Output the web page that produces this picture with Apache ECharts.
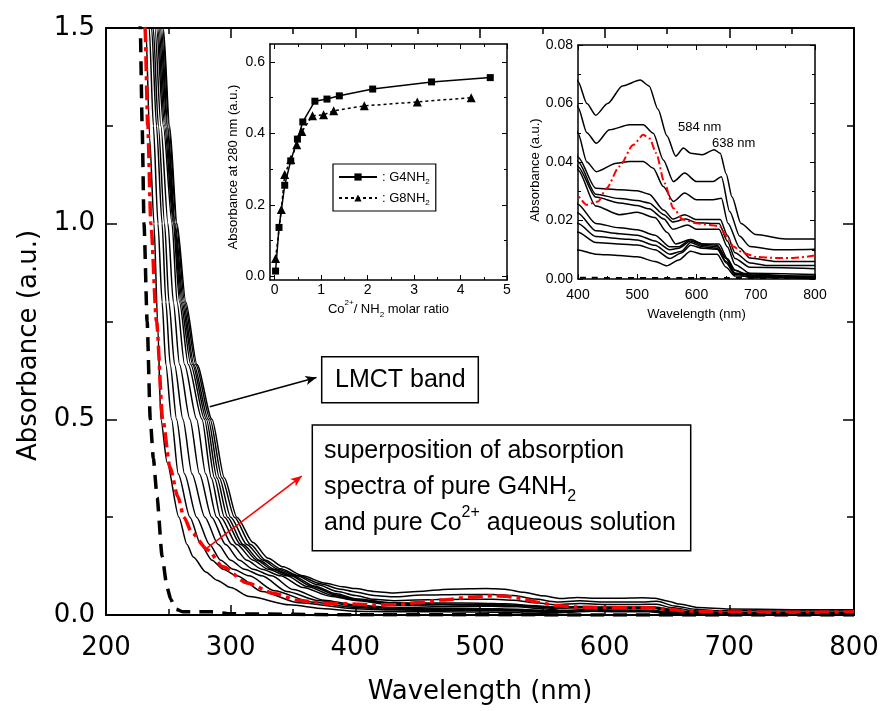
<!DOCTYPE html>
<html>
<head>
<meta charset="utf-8">
<script src="https://cdn.jsdelivr.net/npm/echarts@6.0.0/dist/echarts.min.js"></script>
<style>html,body{margin:0;padding:0;background:#fff;}#c{width:883px;height:711px;}</style>
</head>
<body>
<div id="c"></div>
<script>
// ---------- data: UV-Vis spectra [wavelength (nm), absorbance] ----------
const s1 = [[244,1.65],[246,1.5],[251,1.25],[257,1.0],[264,0.8],[273,0.64],[285,0.5],[295,0.35],[305,0.25],[318,0.185],[330,0.145],[342,0.123],[358,0.1],[375,0.082],[390,0.072],[400,0.0675],[415,0.06],[430,0.056],[450,0.06],[475,0.066],[505,0.068],[520,0.066],[535,0.058],[550,0.049],[565,0.042],[578,0.0448],[590,0.043],[610,0.0425],[630,0.0442],[640,0.043],[650,0.036],[660,0.028],[675,0.019],[700,0.0152],[750,0.0137],[800,0.0137]];
const s2 = [[243.5,1.65],[245.5,1.5],[250.5,1.25],[256.5,1.0],[263,0.8],[272,0.64],[283.5,0.5],[293,0.35],[303,0.25],[316,0.18],[328,0.14],[340,0.118],[355,0.1],[372,0.08],[388,0.066],[400,0.0587],[415,0.05],[431,0.0464],[453,0.051],[487,0.0527],[510,0.0527],[527,0.0498],[544,0.0407],[561,0.0333],[580,0.0362],[600,0.0333],[628,0.0333],[642,0.035],[656,0.0231],[673,0.0146],[690,0.0111],[735,0.01],[800,0.0102]];
const s3 = [[242.5,1.65],[244.5,1.5],[249.5,1.25],[255.5,1.0],[262,0.8],[270.5,0.64],[282,0.5],[291,0.35],[300,0.25],[313,0.18],[326,0.14],[338,0.117],[353,0.1],[370,0.077],[386,0.06],[400,0.0498],[415,0.04],[431,0.0367],[465,0.0396],[487,0.0402],[510,0.0402],[527,0.0379],[544,0.0316],[561,0.0265],[580,0.0294],[600,0.0271],[628,0.0271],[642,0.0276],[653,0.0191],[673,0.0106],[690,0.0072],[735,0.006],[800,0.006]];
const s4 = [[241.5,1.65],[243.5,1.5],[249,1.25],[255,1.0],[261,0.8],[269.5,0.64],[280.5,0.5],[289,0.35],[297.5,0.25],[310,0.18],[323,0.14],[335,0.117],[350,0.1],[367,0.074],[385,0.054],[400,0.0416],[430,0.031],[470,0.0305],[500,0.0302],[520,0.029],[545,0.0235],[560,0.0205],[580,0.022],[600,0.0203],[640,0.0203],[652,0.015],[665,0.009],[690,0.0055],[720,0.0046],[800,0.0046]];
const s5 = [[240.5,1.65],[242.5,1.5],[248,1.25],[254.5,1.0],[260,0.8],[268,0.64],[279,0.5],[287,0.35],[295,0.25],[308,0.18],[321,0.14],[333,0.117],[348,0.1],[365,0.073],[384,0.052],[400,0.0401],[430,0.029],[470,0.0275],[500,0.0268],[520,0.026],[545,0.022],[560,0.0195],[582,0.0205],[600,0.0192],[638,0.019],[652,0.013],[665,0.007],[690,0.004],[800,0.0035]];
const s6 = [[239.5,1.65],[241.5,1.5],[247,1.25],[254,1.0],[259,0.8],[266,0.64],[277,0.5],[284.5,0.35],[292,0.25],[305,0.18],[318,0.14],[330,0.117],[345,0.1],[362,0.072],[382,0.05],[400,0.0384],[430,0.028],[470,0.026],[500,0.0251],[520,0.024],[545,0.0205],[560,0.017],[585,0.0185],[600,0.017],[638,0.017],[652,0.011],[665,0.005],[690,0.002],[800,0.0015]];
const s7 = [[238.6,1.65],[240.6,1.5],[246,1.25],[253,1.0],[257,0.8],[263,0.64],[272.7,0.5],[280,0.36],[288.7,0.25],[301,0.18],[313,0.14],[325,0.117],[340,0.1],[358,0.07],[380,0.048],[400,0.0373],[430,0.025],[470,0.022],[500,0.0228],[530,0.021],[550,0.016],[565,0.012],[590,0.0135],[610,0.012],[638,0.012],[652,0.007],[665,0.003],[690,0.001],[800,0.001]];
const s8 = [[237.3,1.65],[239.3,1.5],[244,1.25],[249.7,1.0],[254,0.8],[259,0.64],[267.3,0.5],[275,0.36],[284.7,0.25],[296,0.18],[307,0.14],[318,0.117],[333,0.1],[350,0.065],[375,0.038],[400,0.0255],[430,0.019],[470,0.0175],[500,0.0168],[530,0.015],[555,0.011],[570,0.011],[590,0.0135],[610,0.012],[635,0.0115],[650,0.007],[665,0.003],[690,0.001],[800,0.0008]];
const s9 = [[235.9,1.65],[237.9,1.5],[242,1.25],[247,1.0],[250.5,0.8],[255,0.64],[261.7,0.5],[269,0.36],[279.3,0.25],[290,0.18],[300,0.14],[311,0.117],[325,0.1],[345,0.06],[370,0.037],[400,0.0225],[430,0.0165],[470,0.0155],[500,0.015],[530,0.013],[555,0.01],[570,0.0105],[590,0.013],[610,0.0115],[635,0.011],[650,0.007],[665,0.002],[690,0.0005],[800,0.0005]];
const s10 = [[234.6,1.65],[236.6,1.5],[240.5,1.25],[245,1.0],[248,0.8],[251.5,0.64],[256.6,0.5],[263,0.36],[272.7,0.25],[283,0.18],[292,0.14],[302,0.117],[315,0.1],[335,0.062],[365,0.033],[400,0.019],[430,0.0145],[470,0.0138],[500,0.0133],[530,0.0115],[555,0.0085],[575,0.0095],[590,0.0125],[610,0.011],[635,0.0105],[650,0.006],[665,0.002],[800,0.0003]];
const s11 = [[232.7,1.65],[234.7,1.5],[238,1.25],[241.7,1.0],[245,0.8],[248,0.64],[252.6,0.5],[258,0.36],[267.3,0.25],[276,0.18],[285,0.14],[294,0.117],[305,0.1],[325,0.06],[355,0.031],[400,0.016],[430,0.0125],[470,0.012],[500,0.0116],[530,0.01],[555,0.007],[575,0.009],[590,0.0115],[610,0.0105],[635,0.0102],[650,0.0055],[665,0.0015],[800,0.0002]];
const s12 = [[230,1.65],[232,1.5],[235,1.22],[238.5,1.0],[241.5,0.74],[244,0.5],[249,0.39],[258.5,0.25],[265,0.18],[270,0.148],[280,0.11],[289,0.089],[300,0.07],[315,0.047],[347,0.026],[375,0.016],[400,0.0099],[430,0.0085],[470,0.008],[500,0.0076],[530,0.006],[550,0.0045],[570,0.0065],[590,0.0095],[610,0.0085],[635,0.0085],[650,0.004],[665,0.001],[800,0]];
// superposition of pure G4NH2 and pure Co2+ spectra (red dash-dot)
const superposition = [[230,1.65],[231.3,1.5],[233.5,1.25],[236,1.0],[240.5,0.75],[245.5,0.5],[251.3,0.378],[257.7,0.302],[262.5,0.25],[268.9,0.21],[281.7,0.166],[293.7,0.123],[313,0.082],[335,0.055],[353,0.038],[375,0.03],[400,0.0282],[414,0.0254],[434,0.0265],[448,0.031],[470,0.0385],[493,0.0458],[510,0.0493],[521,0.048],[532,0.043],[546,0.0328],[561,0.0242],[577,0.0203],[600,0.0191],[622,0.0185],[639,0.018],[651,0.0146],[662,0.0111],[679,0.0089],[701,0.0075],[735,0.0072],[763,0.0072],[800,0.008]];
// reference (black dashed)
const reference = [[226,1.65],[227.5,1.5],[229,1.25],[230.5,1.0],[233,0.75],[235.5,0.5],[238,0.4],[241,0.3],[245,0.15],[249,0.07],[252,0.04],[256,0.015],[262,0.008],[285,0.008],[300,0.003],[400,0.0004],[600,0.0003],[800,0.0003]];

// inset 1: absorbance at 280 nm vs Co2+/NH2 molar ratio
const ratioG4 = [0.02,0.094,0.217,0.346,0.49,0.606,0.866,1.126,1.392,2.11,3.377,4.64];
const absG4   = [0.015,0.137,0.255,0.323,0.384,0.432,0.49,0.496,0.505,0.524,0.544,0.556];
const ratioG8 = [0.02,0.144,0.216,0.346,0.476,0.584,0.815,1.053,1.27,1.93,3.07,4.23];
const absG8   = [0.05,0.187,0.285,0.327,0.368,0.405,0.449,0.452,0.463,0.477,0.488,0.5];

// tick values
const mainXMajor = [200,300,400,500,600,700,800];
const mainXMinor = [250,350,450,550,650,750];
const mainYMajor = [0,0.5,1.0,1.5];
const mainYMinor = [0.25,0.75,1.25];
const in1XMajor = [0,1,2,3,4,5];
const in1XMinor = [0.5,1.5,2.5,3.5,4.5];
const in1YMajor = [0,0.2,0.4,0.6];
const in1YMinor = [0.1,0.3,0.5];
const in2XMajor = [400,500,600,700,800];
const in2XMinor = [450,550,650,750];
const in2YMajor = [0,0.02,0.04,0.06,0.08];
const in2YMinor = [0.01,0.03,0.05,0.07];

// ---------- build ----------
const spectra = [s1,s2,s3,s4,s5,s6,s7,s8,s9,s10,s11,s12];
const xAxes = [], yAxes = [];
function addAxes(list, dim, grid, c) {
  const pos = dim === 'x' ? ['bottom','top'] : ['left','right'];
  const base = () => ({type:'value', gridIndex:grid, min:c.min, max:c.max, splitLine:{show:false},
    axisLine:{show:true, onZero:false, lineStyle:{color:'#000', width:c.lw}}});
  const tick = (vals, len) => ({show:true, inside:true, length:len, customValues:vals, lineStyle:{color:'#000', width:c.tw}});
  const idx = list.length;
  const p = base();
  Object.assign(p, {position:pos[0], name:c.name, nameLocation:'middle', nameGap:c.nameGap,
    nameTextStyle:c.nameStyle, axisTick:tick(c.majors, c.major),
    axisLabel:{show:true, customValues:c.majors, margin:c.margin, color:'#000', fontFamily:c.font, fontSize:c.fs,
      formatter:(v)=> c.dec==null ? String(v) : Number(v).toFixed(c.dec)}});
  list.push(p);
  const m = base(); m.position = pos[0]; m.axisLine = {show:false, onZero:false}; m.axisTick = tick(c.minors, c.minor); m.axisLabel = {show:false};
  list.push(m);
  const t = base(); t.position = pos[1]; t.axisTick = tick(c.majors, c.major); t.axisLabel = {show:false};
  list.push(t);
  const tm = base(); tm.position = pos[1]; tm.axisLine = {show:false, onZero:false}; tm.axisTick = tick(c.minors, c.minor); tm.axisLabel = {show:false};
  list.push(tm);
  return idx;
}
const MF = 'DejaVu Sans', IF = 'Liberation Sans';
const subsup = {sup:{fontSize:8, verticalAlign:'top', lineHeight:8}, sub:{fontSize:8, verticalAlign:'bottom', lineHeight:8}};

const mx = addAxes(xAxes,'x',0,{min:200,max:800,majors:mainXMajor,minors:mainXMinor,major:10,minor:6,lw:2,tw:1.5,
  font:MF,fs:26,margin:20,dec:null,name:'Wavelength (nm)',nameGap:64,nameStyle:{fontFamily:MF,fontSize:26,color:'#000'}});
const my = addAxes(yAxes,'y',0,{min:0,max:1.5,majors:mainYMajor,minors:mainYMinor,major:11,minor:7,lw:2,tw:1.5,
  font:MF,fs:26,margin:11,dec:1,name:'Absorbance (a.u.)',nameGap:64,nameStyle:{fontFamily:MF,fontSize:26,color:'#000',padding:[0,48,0,0]}});
const ax1 = addAxes(xAxes,'x',1,{min:-0.1,max:5,majors:in1XMajor,minors:in1XMinor,major:5,minor:3,lw:1.5,tw:1,
  font:IF,fs:14,margin:3,dec:null,name:'Co{sup|2+}/ NH{sub|2} molar ratio',nameGap:19,
  nameStyle:{fontFamily:IF,fontSize:13,color:'#000',lineHeight:20,rich:subsup}});
const ay1 = addAxes(yAxes,'y',1,{min:-0.01,max:0.65,majors:in1YMajor,minors:in1YMinor,major:5,minor:3,lw:1.5,tw:1,
  font:IF,fs:14,margin:5,dec:1,name:'Absorbance at 280 nm (a.u.)',nameGap:30,
  nameStyle:{fontFamily:IF,fontSize:13,color:'#000',padding:[0,10,0,0]}});
const ax2 = addAxes(xAxes,'x',2,{min:400,max:800,majors:in2XMajor,minors:in2XMinor,major:5,minor:3,lw:1.5,tw:1,
  font:IF,fs:14,margin:9,dec:null,name:'Wavelength (nm)',nameGap:29,nameStyle:{fontFamily:IF,fontSize:13,color:'#000'}});
const ay2 = addAxes(yAxes,'y',2,{min:0,max:0.08,majors:in2YMajor,minors:in2YMinor,major:5,minor:3,lw:1.5,tw:1,
  font:IF,fs:14,margin:5,dec:2,name:'Absorbance (a.u.)',nameGap:34,
  nameStyle:{fontFamily:IF,fontSize:13,color:'#000',padding:[0,16,0,0]}});

const series = [];
function spectraSeries(xi, yi, wBlack, wRed, redDash, refDash) {
  spectra.forEach((d,i)=>series.push({name:'spec'+(i+1), type:'line', xAxisIndex:xi, yAxisIndex:yi, data:d,
    showSymbol:false, symbol:'none', smooth:0.25, smoothMonotone:'x', lineStyle:{color:'#000', width:wBlack}, silent:true, z:3}));
  series.push({name:'superposition', type:'line', xAxisIndex:xi, yAxisIndex:yi, data:superposition, showSymbol:false, symbol:'none',
    smooth:0.25, smoothMonotone:'x', lineStyle:{color:'#ff0000', width:wRed, type:redDash}, silent:true, z:4});
  series.push({name:'reference', type:'line', xAxisIndex:xi, yAxisIndex:yi, data:reference, showSymbol:false, symbol:'none',
    smooth:0.2, smoothMonotone:'x', lineStyle:{color:'#000', width:wRed, type:refDash}, silent:true, z:4});
}
spectraSeries(mx, my, 1.5, 3.5, [15,5,4,5], [14,9]);
spectraSeries(ax2, ay2, 1.5, 2, [8,3,2,3], [6,6]);

series.push({name:'G4NH2', type:'line', xAxisIndex:ax1, yAxisIndex:ay1, data:ratioG4.map((x,i)=>[x,absG4[i]]),
  symbol:'rect', symbolSize:7, showSymbol:true, itemStyle:{color:'#000'}, lineStyle:{color:'#000', width:1.5}, z:5});
series.push({name:'G8NH2', type:'line', xAxisIndex:ax1, yAxisIndex:ay1, data:ratioG8.map((x,i)=>[x,absG8[i]]),
  symbol:'triangle', symbolSize:9, showSymbol:true, itemStyle:{color:'#000'}, lineStyle:{color:'#000', width:1.5, type:[3,3]}, z:5});

// annotation arrows (data coordinates of the main plot)
series.push({name:'arrows', type:'line', xAxisIndex:mx, yAxisIndex:my, data:[], silent:true,
  markLine:{silent:true, animation:false, symbol:['none','arrow'], symbolSize:[7,11], label:{show:false},
    data:[
      [{coord:[283.3,0.532], lineStyle:{color:'#000', width:1.5, type:'solid'}},{coord:[368.8,0.607]}],
      [{coord:[280.9,0.171], lineStyle:{color:'#ff0000', width:1.5, type:'solid'}},{coord:[357,0.355]}]
    ]}});

const chart = echarts.init(document.getElementById('c'), null, {renderer:'canvas'});
chart.setOption({
  animation:false,
  backgroundColor:'#fff',
  grid:[
    {left:106, top:28, width:748, height:587},
    {left:270, top:44, width:237, height:236},
    {left:578, top:45, width:237, height:234}
  ],
  xAxis:xAxes, yAxis:yAxes,
  legend:{data:['G4NH2','G8NH2'], left:333, top:164, orient:'vertical', itemWidth:38, itemHeight:9, itemGap:3,
    padding:[4,6,4,5], borderColor:'#000', borderWidth:1.2, backgroundColor:'#fff', selectedMode:false,
    textStyle:{fontFamily:IF, fontSize:13, color:'#000', lineHeight:18, rich:{sub:{fontSize:8, verticalAlign:'bottom', lineHeight:8}}},
    formatter:(n)=>': ' + n.replace('NH2','NH{sub|2}')},
  series:series,
  graphic:[
    {type:'rect', shape:{x:321.7, y:356.7, width:156.6, height:46}, style:{fill:'#fff', stroke:'#000', lineWidth:1.5}, z:10},
    {type:'text', x:335, y:380, style:{text:'LMCT band', fontFamily:IF, fontSize:25, fill:'#000', verticalAlign:'middle', align:'left'}, z:11},
    {type:'rect', shape:{x:312.3, y:425, width:378.4, height:125.7}, style:{fill:'#fff', stroke:'#000', lineWidth:1.5}, z:10},
    {type:'text', x:324, y:433, style:{text:'superposition of absorption\nspectra of pure G4NH{sub|2}\nand pure Co{sup|2+} aqueous solution',
      fontFamily:IF, fontSize:25, lineHeight:36, fill:'#000', verticalAlign:'top', align:'left',
      rich:{sub:{fontSize:16, verticalAlign:'bottom', lineHeight:4}, sup:{fontSize:16, verticalAlign:'top', lineHeight:16}}}, z:11},
    {type:'text', x:678, y:127, style:{text:'584 nm', fontFamily:IF, fontSize:13, fill:'#000', verticalAlign:'middle'}, z:11},
    {type:'text', x:712, y:143, style:{text:'638 nm', fontFamily:IF, fontSize:13, fill:'#000', verticalAlign:'middle'}, z:11}
  ]
});
</script>
</body>
</html>
